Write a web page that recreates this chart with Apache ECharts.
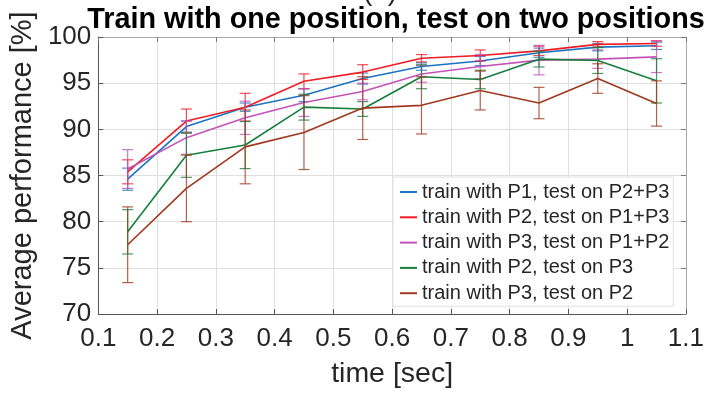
<!DOCTYPE html>
<html>
<head>
<meta charset="utf-8">
<script src="https://cdn.jsdelivr.net/npm/echarts@6/dist/echarts.min.js"></script>
<style>
  html, body { margin: 0; padding: 0; background: #fff; }
  #chart { width: 707px; height: 394px; }
</style>
</head>
<body>
<div id="chart"></div>
<script>
// Window lengths (seconds) at which each classifier was evaluated
const times = [0.15, 0.25, 0.35, 0.45, 0.55, 0.65, 0.75, 0.85, 0.95, 1.05];

// Axis tick labels
const xTickLabels = ['0.1', '0.2', '0.3', '0.4', '0.5', '0.6', '0.7', '0.8', '0.9', '1', '1.1'];
const yTickLabels = ['70', '75', '80', '85', '90', '95', '100'];

// Legend entries
const seriesNames = [
  'train with P1, test on P2+P3',
  'train with P2, test on P1+P3',
  'train with P3, test on P1+P2',
  'train with P2, test on P3',
  'train with P3, test on P2'
];

// Mean accuracy [%] and its spread (+/-) for each setup
const p1OnP2P3     = [84.6, 90.3, 92.4, 93.7, 95.5, 96.8, 97.4, 98.3, 98.9, 99.05];
const p1OnP2P3Err  = [1.2, 0.6, 0.45, 0.7, 0.6, 0.4, 0.5, 0.5, 0.4, 0.4];
const p2OnP1P3     = [85.4, 90.9, 92.4, 95.2, 96.2, 97.7, 98.0, 98.5, 99.2, 99.3];
const p2OnP1P3Err  = [1.3, 1.3, 1.5, 0.8, 0.8, 0.4, 0.6, 0.5, 0.3, 0.3];
const p3OnP1P2     = [85.7, 89.1, 91.25, 92.9, 94.1, 96.0, 96.8, 97.5, 97.6, 97.85];
const p3OnP1P2Err  = [2.1, 1.8, 1.8, 1.5, 0.9, 0.9, 1.3, 1.6, 1.0, 1.7];
const p2OnP3       = [78.9, 87.2, 88.3, 92.4, 92.2, 95.7, 95.4, 97.6, 97.45, 95.25];
const p2OnP3Err    = [2.4, 2.4, 2.55, 1.4, 0.8, 1.3, 1.0, 0.85, 1.4, 2.4];
const p3OnP2       = [77.5, 83.6, 88.1, 89.65, 92.3, 92.6, 94.2, 92.85, 95.5, 92.8];
const p3OnP2Err    = [4.1, 3.6, 4.0, 4.0, 3.4, 3.1, 2.1, 1.7, 1.6, 2.45];

const seriesColors = ['#1b74c3', '#f01c24', '#c452b8', '#177f3d', '#a0391f'];
const means = [p1OnP2P3, p2OnP1P3, p3OnP1P2, p2OnP3, p3OnP2];
const spreads = [p1OnP2P3Err, p2OnP1P3Err, p3OnP1P2Err, p2OnP3Err, p3OnP2Err];

const FONT = "'Liberation Sans', Arial, sans-serif";
const TEXT = '#262626';

// Use the condensed face for axis numbers when it is installed
function fontInstalled(name) {
  const ctx = document.createElement('canvas').getContext('2d');
  const sample = 'Wwm0.1ilx Average';
  ctx.font = '40px monospace';
  const a = ctx.measureText(sample).width;
  ctx.font = "40px '" + name + "', monospace";
  const b = ctx.measureText(sample).width;
  return a !== b;
}
const hasNarrow = fontInstalled('Liberation Sans Narrow');
const TICK_FONT = hasNarrow ? "'Liberation Sans Narrow', " + FONT : FONT;
const TICK_SIZE = hasNarrow ? 30 : 26;

// Vertical error bar with caps at both ends
function errorBarItem(params, api) {
  const x = api.value(0);
  const top = api.coord([x, api.value(2)]);
  const bot = api.coord([x, api.value(1)]);
  const hw = 5.5;
  const style = { stroke: api.visual('color'), lineWidth: 1.2, opacity: 0.8 };
  return {
    type: 'group',
    children: [
      { type: 'line', shape: { x1: top[0], y1: top[1], x2: bot[0], y2: bot[1] }, style },
      { type: 'line', shape: { x1: top[0] - hw, y1: top[1], x2: top[0] + hw, y2: top[1] }, style },
      { type: 'line', shape: { x1: bot[0] - hw, y1: bot[1], x2: bot[0] + hw, y2: bot[1] }, style }
    ]
  };
}

const series = [];
seriesNames.forEach((name, k) => {
  series.push({
    name: 'spread ' + k,
    type: 'custom',
    renderItem: errorBarItem,
    itemStyle: { color: seriesColors[k] },
    encode: { x: 0, y: [1, 2] },
    data: times.map((t, i) => [t, means[k][i] - spreads[k][i], means[k][i] + spreads[k][i]]),
    z: 2 + k * 0.1,
    silent: true
  });
  series.push({
    name: name,
    type: 'line',
    color: seriesColors[k],
    showSymbol: false,
    symbol: 'none',
    lineStyle: { width: 1.6, color: seriesColors[k] },
    data: times.map((t, i) => [t, means[k][i]]),
    z: 2 + k * 0.1 + 0.05
  });
});

const chart = echarts.init(document.getElementById('chart'), null, { renderer: 'canvas' });
chart.setOption({
  animation: false,
  backgroundColor: '#fff',
  grid: { left: 93, right: 17, top: 37, bottom: 76 },
  graphic: [
    {
      type: 'text', x: 380, y: 6, z: 10,
      style: { text: '(b)', font: '28px ' + FONT, fill: TEXT, textAlign: 'center', textVerticalAlign: 'bottom' }
    },
    {
      type: 'text', x: 396, y: 20, z: 10,
      style: { text: 'Train with one position, test on two positions', font: 'bold 28.8px ' + FONT, fill: '#000', textAlign: 'center', textVerticalAlign: 'middle' }
    }
  ],
  legend: {
    data: seriesNames,
    orient: 'vertical',
    left: 393,
    top: 177,
    icon: 'rect',
    itemWidth: 17,
    itemHeight: 2,
    itemGap: 5.3,
    padding: [5, 4, 3, 7],
    backgroundColor: '#fff',
    borderColor: '#e2e2e2',
    borderWidth: 1,
    borderRadius: 0,
    textStyle: { fontFamily: FONT, fontSize: 20, lineHeight: 20, color: TEXT },
    selectedMode: false
  },
  xAxis: [
    {
      type: 'value', min: 0.1, max: 1.1, interval: 0.1, position: 'bottom',
      axisLine: { show: true, lineStyle: { color: '#555', width: 1 } },
      axisTick: { show: true, inside: true, length: 5, lineStyle: { color: '#555' } },
      axisLabel: {
        fontFamily: TICK_FONT, fontSize: TICK_SIZE, color: TEXT, margin: 12,
        formatter: v => xTickLabels[Math.round((v - 0.1) / 0.1)]
      },
      splitLine: { show: true, lineStyle: { color: '#dfdfdf', width: 1 } },
      name: 'time [sec]', nameLocation: 'middle', nameGap: 46,
      nameTextStyle: { fontFamily: FONT, fontSize: 28.5, color: TEXT }
    },
    {
      type: 'value', min: 0.1, max: 1.1, interval: 0.1, position: 'top',
      axisLine: { show: true, lineStyle: { color: '#aaa', width: 1 } },
      axisTick: { show: true, inside: true, length: 5, lineStyle: { color: '#777' } },
      axisLabel: { show: false },
      splitLine: { show: false }
    }
  ],
  yAxis: [
    {
      type: 'value', min: 70, max: 100, interval: 5, position: 'left',
      axisLine: { show: true, lineStyle: { color: '#555', width: 1 } },
      axisTick: { show: true, inside: true, length: 5, lineStyle: { color: '#555' } },
      axisLabel: {
        fontFamily: TICK_FONT, fontSize: TICK_SIZE, color: TEXT, margin: 7,
        formatter: v => yTickLabels[Math.round((v - 70) / 5)]
      },
      splitLine: { show: true, lineStyle: { color: '#dfdfdf', width: 1 } },
      name: 'Average performance [%]', nameLocation: 'middle', nameGap: 57,
      nameTextStyle: { fontFamily: FONT, fontSize: 29, color: TEXT }
    },
    {
      type: 'value', min: 70, max: 100, interval: 5, position: 'right',
      axisLine: { show: true, lineStyle: { color: '#aaa', width: 1 } },
      axisTick: { show: true, inside: true, length: 5, lineStyle: { color: '#777' } },
      axisLabel: { show: false },
      splitLine: { show: false }
    }
  ],
  series: series
});
</script>
</body>
</html>
